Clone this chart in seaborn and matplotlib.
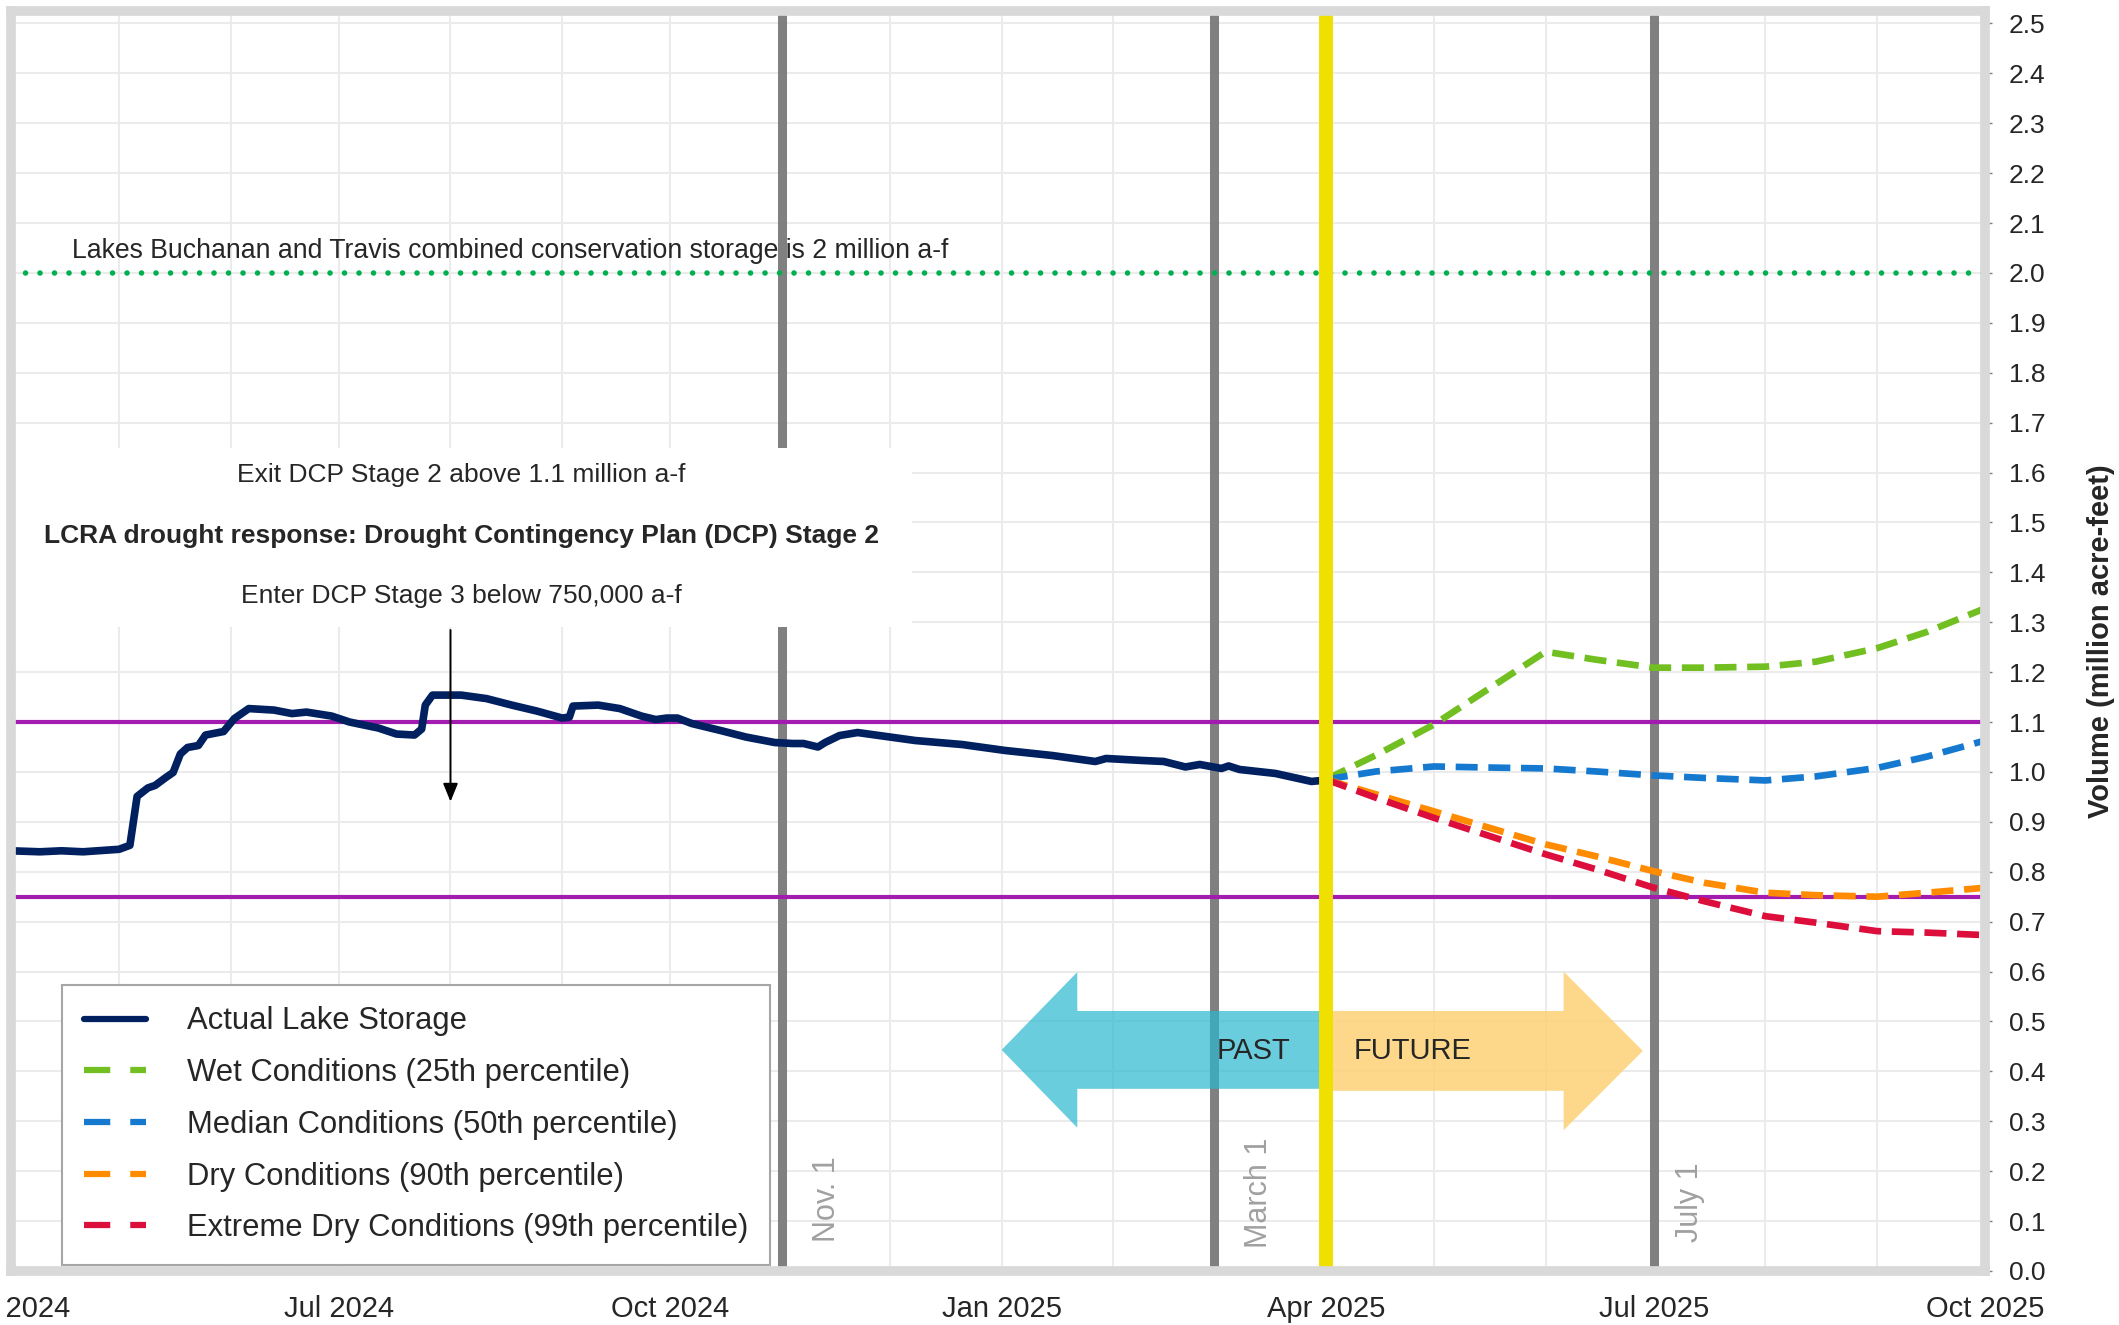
import seaborn as sns
import matplotlib.pyplot as plt
import matplotlib.dates as mdates
from matplotlib.lines import Line2D
from matplotlib.patches import Rectangle, FancyArrow
from matplotlib.ticker import MultipleLocator, FormatStrFormatter
import pandas as pd

# ---- data ----
actual_dates = [
    "2024-04-01", "2024-04-09", "2024-04-15", "2024-04-21", "2024-05-01", "2024-05-04",
    "2024-05-06", "2024-05-09", "2024-05-11", "2024-05-14", "2024-05-16", "2024-05-18",
    "2024-05-20", "2024-05-23", "2024-05-25", "2024-05-30", "2024-06-02", "2024-06-06",
    "2024-06-13", "2024-06-18", "2024-06-22", "2024-06-29", "2024-07-04", "2024-07-12",
    "2024-07-17", "2024-07-22", "2024-07-24", "2024-07-25", "2024-07-27", "2024-08-04",
    "2024-08-11", "2024-08-18", "2024-08-25", "2024-09-01", "2024-09-03", "2024-09-04",
    "2024-09-11", "2024-09-17", "2024-09-23", "2024-09-27", "2024-09-30", "2024-10-03",
    "2024-10-07", "2024-10-15", "2024-10-22", "2024-10-30", "2024-11-04", "2024-11-07",
    "2024-11-11", "2024-11-13", "2024-11-17", "2024-11-22", "2024-11-28", "2024-12-08",
    "2024-12-21", "2025-01-02", "2025-01-15", "2025-01-27", "2025-01-30", "2025-02-09",
    "2025-02-15", "2025-02-21", "2025-02-25", "2025-03-03", "2025-03-05", "2025-03-08",
    "2025-03-18", "2025-03-28", "2025-03-31",
]
actual_storage = [
    0.842, 0.840, 0.842, 0.840, 0.845, 0.853,
    0.951, 0.968, 0.973, 0.989, 0.999, 1.036,
    1.049, 1.053, 1.074, 1.081, 1.107, 1.127,
    1.124, 1.117, 1.120, 1.112, 1.100, 1.088,
    1.076, 1.074, 1.086, 1.134, 1.154, 1.154,
    1.147, 1.134, 1.122, 1.108, 1.110, 1.132,
    1.134, 1.127, 1.112, 1.105, 1.108, 1.108,
    1.097, 1.083, 1.070, 1.059, 1.057, 1.057,
    1.050, 1.059, 1.073, 1.079, 1.073, 1.063,
    1.055, 1.043, 1.033, 1.021, 1.027, 1.023,
    1.021, 1.010, 1.015, 1.007, 1.012, 1.005,
    0.997, 0.981, 0.983,
]

forecast_dates = [
    "2025-04-01", "2025-04-15", "2025-05-01", "2025-05-15", "2025-06-01", "2025-06-15",
    "2025-07-01", "2025-07-15", "2025-08-01", "2025-08-15", "2025-09-01", "2025-09-15",
    "2025-10-01",
]
wet = [0.985, 1.034, 1.095, 1.161, 1.241, 1.225, 1.209, 1.209, 1.211, 1.221, 1.248, 1.281, 1.328]
median = [0.985, 1.001, 1.011, 1.009, 1.007, 1.001, 0.993, 0.988, 0.983, 0.991, 1.008, 1.031, 1.063]
dry = [0.985, 0.955, 0.921, 0.891, 0.855, 0.831, 0.801, 0.778, 0.758, 0.753, 0.750, 0.758, 0.768]
extreme_dry = [0.985, 0.948, 0.908, 0.875, 0.835, 0.805, 0.768, 0.741, 0.711, 0.698, 0.681, 0.678, 0.673]

series_labels = [
    "Actual Lake Storage",
    "Wet Conditions (25th percentile)",
    "Median Conditions (50th percentile)",
    "Dry Conditions (90th percentile)",
    "Extreme Dry Conditions (99th percentile)",
]
series_colors = ["#002060", "#72bf21", "#1479cf", "#ff8c00", "#dc0f3c"]

conservation_storage = 2.0
exit_stage2 = 1.1
enter_stage3 = 0.75

marker_dates = ["2024-11-01", "2025-03-01", "2025-07-01"]
marker_labels = ["Nov. 1", "March 1", "July 1"]
today = "2025-04-01"

# ---- frames ----
actual_df = pd.DataFrame({"date": pd.to_datetime(actual_dates), "volume": actual_storage})
fc = pd.DataFrame({"date": pd.to_datetime(forecast_dates)})
forecast_sets = [wet, median, dry, extreme_dry]

sns.set_style("white")
plt.rcParams["font.family"] = ["Liberation Sans", "DejaVu Sans"]

fig = plt.figure(figsize=(21.19, 13.25), dpi=100)
ax = fig.add_axes([0.0052, 0.0408, 0.9316, 0.9509])

d = lambda s: mdates.date2num(pd.Timestamp(s))

# vertical reference lines
for md in marker_dates:
    ax.axvline(pd.Timestamp(md), color="#808080", lw=6.5, zorder=2)
for md, ml in zip(marker_dates, marker_labels):
    off = 10 if ml == "July 1" else 12.5
    ax.text(pd.Timestamp(md) + pd.Timedelta(days=off), 0.045 if ml == "March 1" else 0.057,
            ml, rotation=90, ha="center", va="bottom", fontsize=22, color="#a0a0a0", zorder=8)

# white box with DCP text
ax.add_patch(Rectangle((d("2024-03-25"), 1.291), d("2024-12-07") - d("2024-03-25"), 0.359,
                       facecolor="white", edgecolor="none", zorder=3))
mid_box = pd.Timestamp("2024-08-04")
ax.text(mid_box, 1.595, "Exit DCP Stage 2 above 1.1 million a-f", ha="center", va="center",
        fontsize=19, zorder=8)
ax.text(mid_box, 1.472, "LCRA drought response: Drought Contingency Plan (DCP) Stage 2",
        ha="center", va="center", fontsize=19, fontweight="bold", zorder=8)
ax.text(mid_box, 1.352, "Enter DCP Stage 3 below 750,000 a-f", ha="center", va="center",
        fontsize=19, zorder=8)
ax.annotate("", xy=(pd.Timestamp("2024-08-01"), 0.935), xytext=(pd.Timestamp("2024-08-01"), 1.29),
            arrowprops=dict(arrowstyle="-|>,head_length=1.1,head_width=0.45", color="black", lw=1.4),
            zorder=8)

# PAST / FUTURE arrows
ax.add_patch(FancyArrow(d(today), 0.443, d("2025-01-01") - d(today), 0, width=0.156,
                        head_width=0.312, head_length=21, length_includes_head=True,
                        facecolor="#29b8cf", edgecolor="none", alpha=0.7, zorder=4))
ax.add_patch(FancyArrow(d(today), 0.441, d("2025-06-28") - d(today), 0, width=0.16,
                        head_width=0.318, head_length=22, length_includes_head=True,
                        facecolor="#fdd37a", edgecolor="none", alpha=0.88, zorder=4))
ax.text(pd.Timestamp("2025-03-12"), 0.441, "PAST", ha="center", va="center", fontsize=21, zorder=8)
ax.text(pd.Timestamp("2025-04-25"), 0.441, "FUTURE", ha="center", va="center", fontsize=21, zorder=8)

# threshold lines
ax.axhline(conservation_storage, color="#00b050", lw=4, ls=(0, (0.01, 2.6)),
           dash_capstyle="round", zorder=5)
ax.text(pd.Timestamp("2024-04-18"), 2.045,
        "Lakes Buchanan and Travis combined conservation storage is 2 million a-f",
        ha="left", va="center", fontsize=19.2, zorder=8)
for lvl in [exit_stage2, enter_stage3]:
    ax.axhline(lvl, color="#a21caf", lw=3, zorder=5)

# data lines
sns.lineplot(data=actual_df, x="date", y="volume", color=series_colors[0], lw=5.5,
             estimator=None, ax=ax, zorder=6)
for vals, col in zip(forecast_sets, series_colors[1:]):
    fdf = fc.assign(volume=vals)
    sns.lineplot(data=fdf, x="date", y="volume", color=col, lw=4.8,
                 linestyle=(0, (3.3, 1.6)), estimator=None, ax=ax, zorder=6)

ax.axvline(pd.Timestamp(today), color="#f0e000", lw=10, zorder=7)

# axes styling
ax.set_xlim(pd.Timestamp("2024-04-01"), pd.Timestamp("2025-10-01"))
ax.set_ylim(0, 2.525)
ax.xaxis.set_major_locator(mdates.MonthLocator(bymonth=[1, 4, 7, 10]))
ax.xaxis.set_major_formatter(mdates.DateFormatter("%b %Y"))
ax.xaxis.set_minor_locator(mdates.MonthLocator())
ax.yaxis.set_major_locator(MultipleLocator(0.1))
ax.yaxis.set_major_formatter(FormatStrFormatter("%.1f"))
ax.yaxis.tick_right()
ax.yaxis.set_label_position("right")
ax.set_axisbelow(True)
ax.grid(which="both", axis="x", color="#ebebeb", lw=1.5)
ax.grid(which="major", axis="y", color="#ebebeb", lw=1.5)
ax.tick_params(axis="x", which="both", length=0, labelsize=21, pad=17)
ax.tick_params(axis="y", length=5, width=1, color="#7f7f7f", labelsize=19, pad=12)
ax.set_xlabel("")
ax.set_ylabel("Volume (million acre-feet)", fontsize=21, fontweight="bold", labelpad=30)
for sp in ax.spines.values():
    sp.set_color("#d9d9d9")
    sp.set_linewidth(7)
    sp.set_zorder(20)

# legend
handles = [Line2D([], [], color=series_colors[0], lw=4.5)]
for col in series_colors[1:]:
    handles.append(Line2D([], [], color=col, lw=4.5, linestyle=(0, (4.2, 3.2))))
leg = ax.legend(handles, series_labels, loc="lower left", bbox_to_anchor=(0.0258, 0.0048),
                borderaxespad=0, fontsize=22.3, frameon=True, fancybox=False, framealpha=1,
                edgecolor="#a6a6a6", handlelength=2.0, handletextpad=1.35,
                labelspacing=0.7, borderpad=0.7)
leg.get_frame().set_linewidth(1.5)
leg.set_zorder(15)

plt.savefig("out.png", dpi=100)
plt.close()
